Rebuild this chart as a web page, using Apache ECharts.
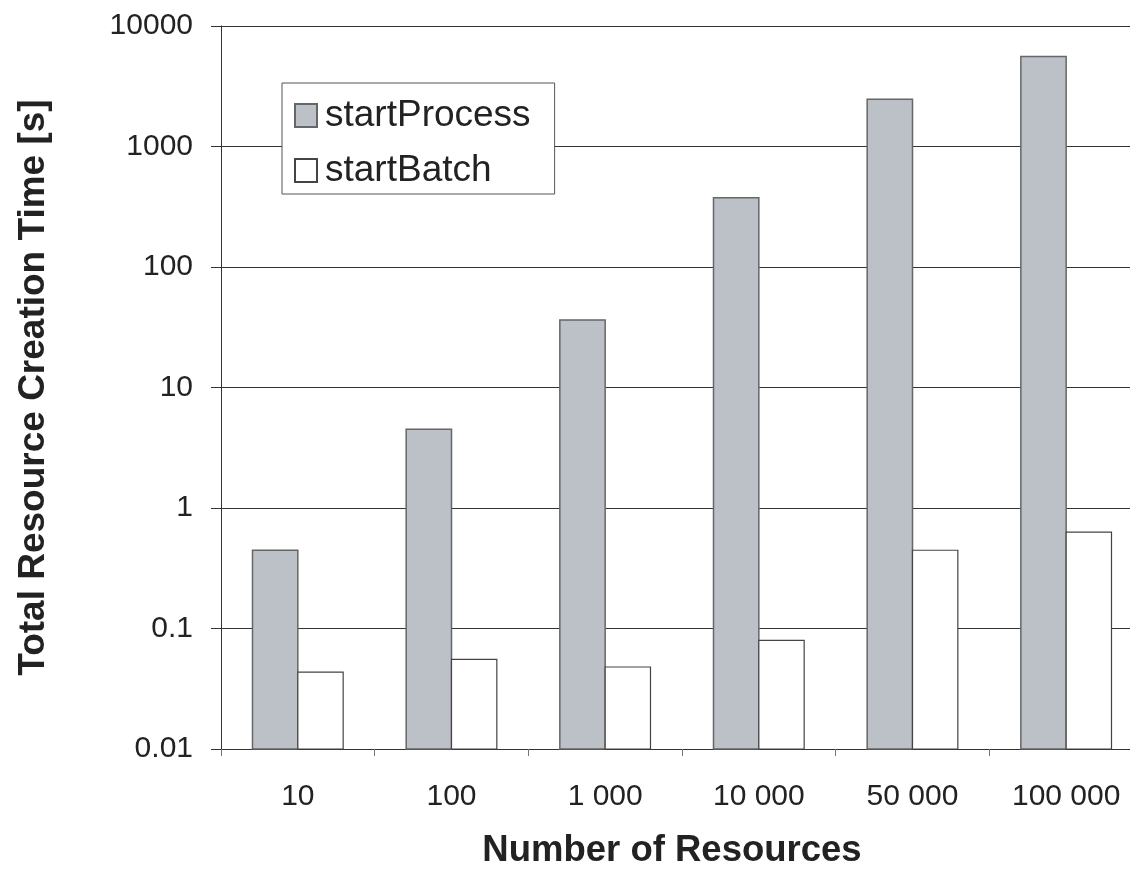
<!DOCTYPE html>
<html>
<head>
<meta charset="utf-8">
<script src="https://cdn.jsdelivr.net/npm/echarts@6/dist/echarts.min.js"></script>
<style>
  html, body { margin: 0; padding: 0; background: #fff; }
  #chart { width: 1130px; height: 869px; }
</style>
</head>
<body>
<div id="chart"></div>
<script>
// Number of resources created in one run
const categories = ['10', '100', '1 000', '10 000', '50 000', '100 000'];
// Total creation time in seconds
const startProcess = [0.447, 4.51, 36.3, 376, 2470, 5580];
const startBatch = [0.0435, 0.0555, 0.0479, 0.0798, 0.446, 0.63];
// Decade labels of the log axis
const yTickLabels = ['0.01', '0.1', '1', '10', '100', '1000', '10000'];

const Y_MIN = 0.01;
const Y_MAX = 10000;
const FONT = '"Liberation Sans", Arial, sans-serif';
const TEXT = '#222';
const BAR_SHARE = 0.295; // fraction of a category band taken by one bar

const chart = echarts.init(document.getElementById('chart'), null, { renderer: 'canvas' });

function decadeLabel(v) {
  const e = Math.round(Math.log10(v));
  return yTickLabels[e + 2] !== undefined ? yTickLabels[e + 2] : String(v);
}

// Bars on a log axis, drawn up from the axis floor.
// side = -1 puts the bar left of the category centre, +1 to the right.
function logBars(name, values, side, itemStyle) {
  return {
    type: 'custom',
    name: name,
    data: values.map(function (v, i) { return [i, v]; }),
    encode: { x: 0, y: 1 },
    itemStyle: itemStyle,
    renderItem: function (params, api) {
      const i = api.value(0);
      const v = api.value(1);
      const top = api.coord([i, v]);
      const base = api.coord([i, Y_MIN]);
      const band = api.size([1, 1])[0];
      const w = band * BAR_SHARE;
      const x = side < 0 ? top[0] - w : top[0];
      return {
        type: 'rect',
        shape: { x: x, y: top[1], width: w, height: base[1] - top[1] },
        style: api.style()
      };
    }
  };
}

chart.setOption({
  animation: false,
  backgroundColor: '#fff',
  // the plot runs slightly past the right edge of the canvas
  grid: { left: 221, top: 26, width: 922, height: 723, containLabel: false, outerBoundsMode: 'none' },
  legend: {
    orient: 'vertical',
    left: 282,
    top: 83,
    padding: [14, 24, 5, 12],
    backgroundColor: '#fff',
    borderColor: '#555',
    borderWidth: 1,
    borderRadius: 0,
    itemWidth: 22,
    itemHeight: 23,
    itemGap: 18,
    icon: 'rect',
    textStyle: { fontFamily: FONT, fontSize: 37, color: TEXT, padding: [0, 0, 0, 3] },
    data: ['startProcess', 'startBatch']
  },
  xAxis: {
    type: 'category',
    data: categories,
    name: 'Number of Resources',
    nameLocation: 'middle',
    nameGap: 83,
    nameTextStyle: { fontFamily: FONT, fontSize: 36.5, fontWeight: 'bold', color: TEXT, padding: [0, 20, 0, 0] },
    axisLine: { lineStyle: { color: '#333', width: 1 } },
    axisTick: { show: true, alignWithLabel: false, length: 7, lineStyle: { color: '#777' } },
    axisLabel: { fontFamily: FONT, fontSize: 30, color: TEXT, margin: 33 },
    splitLine: { show: false }
  },
  yAxis: {
    type: 'log',
    logBase: 10,
    min: Y_MIN,
    max: Y_MAX,
    name: 'Total Resource Creation Time [s]',
    nameLocation: 'middle',
    nameGap: 169,
    nameRotate: 90,
    nameTextStyle: { fontFamily: FONT, fontSize: 37, fontWeight: 'bold', color: TEXT },
    axisLine: { show: true, lineStyle: { color: '#333', width: 1 } },
    axisTick: { show: true, length: 10, lineStyle: { color: '#333' } },
    axisLabel: { fontFamily: FONT, fontSize: 30, color: TEXT, margin: 28, formatter: decadeLabel },
    splitLine: { show: true, lineStyle: { color: '#333', width: 1 } }
  },
  series: [
    logBars('startProcess', startProcess, -1, { color: '#bcc0c7', borderColor: '#666', borderWidth: 1.5 }),
    logBars('startBatch', startBatch, 1, { color: '#ffffff', borderColor: '#444', borderWidth: 1.2 })
  ]
});
</script>
</body>
</html>
